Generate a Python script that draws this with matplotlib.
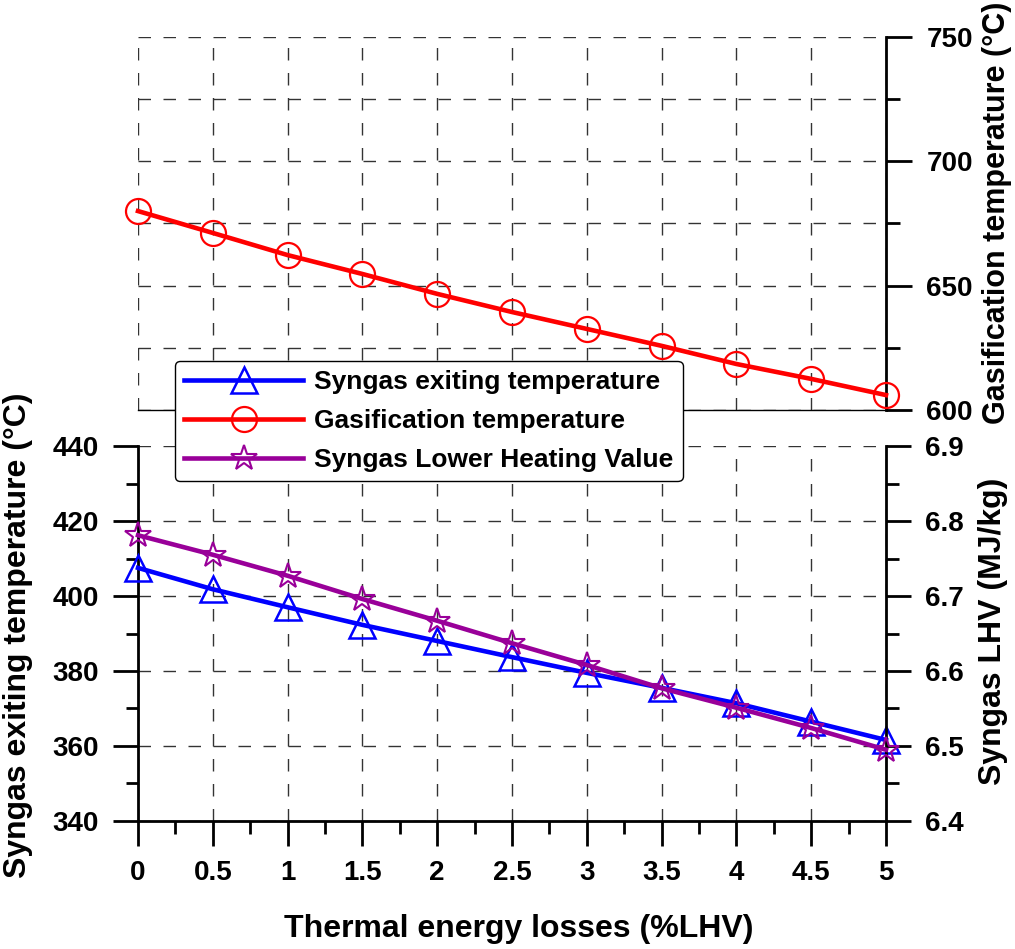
import matplotlib
matplotlib.use("Agg")
import matplotlib.pyplot as plt
import matplotlib.ticker as mticker

plt.rcParams["font.family"] = ["Liberation Sans", "DejaVu Sans"]
plt.rcParams["font.weight"] = "bold"

# --- data ---
losses = [0, 0.5, 1, 1.5, 2, 2.5, 3, 3.5, 4, 4.5, 5]
gasif_temp = [680, 671.2, 662.3, 654.7, 646.7, 639.4, 632.6, 625.8, 618.5, 612.5, 606]
syngas_exit = [407.5, 401.8, 397, 392.3, 388, 383.7, 379.5, 375.5, 371.4, 366.5, 361.6]
syngas_lhv = [6.781, 6.755, 6.727, 6.696, 6.667, 6.637, 6.608, 6.577, 6.551, 6.524, 6.495]

BLUE = "#0000ff"
RED = "#ff0000"
PURPLE = "#990099"
GRID = dict(color="#333333", lw=1.0, ls=(0, (9, 9)))
TICK_FS = 20
LABEL_FS = 23

fig = plt.figure(figsize=(10.15, 9.49), dpi=100)
ax_top = fig.add_axes([0.13596, 0.56797, 0.73695, 0.39305])
ax_bot = fig.add_axes([0.13596, 0.13488, 0.73695, 0.39515])
ax_lhv = ax_bot.twinx()

# --- top panel: gasification temperature ---
l_gas, = ax_top.plot(losses, gasif_temp, color=RED, lw=3.3, marker="o", ms=18,
                     mfc="none", mec=RED, mew=1.6, clip_on=False, zorder=3,
                     label="Gasification temperature")
ax_top.set_xlim(0, 5)
ax_top.set_ylim(600, 750)
ax_top.yaxis.tick_right()
ax_top.yaxis.set_major_locator(mticker.MultipleLocator(50))
ax_top.yaxis.set_minor_locator(mticker.MultipleLocator(25))
ax_top.xaxis.set_major_locator(mticker.MultipleLocator(0.5))
ax_top.tick_params(axis="x", which="both", length=0, labelbottom=False)
ax_top.tick_params(axis="y", which="major", direction="out", length=19, width=2,
                   labelsize=TICK_FS, pad=10)
ax_top.tick_params(axis="y", which="minor", direction="out", length=10, width=2)
ax_top.grid(True, which="major", **GRID)
ax_top.grid(True, which="minor", axis="y", **GRID)
ax_top.spines["left"].set_visible(False)
ax_top.spines["top"].set_visible(False)
ax_top.spines["right"].set_linewidth(2)
ax_top.spines["bottom"].set_linewidth(1)

# --- bottom panel: syngas exit temperature and LHV ---
l_exit, = ax_bot.plot(losses, syngas_exit, color=BLUE, lw=3.3, marker="^", ms=19,
                      mfc="none", mec=BLUE, mew=1.8, clip_on=False, zorder=3,
                      label="Syngas exiting temperature")
ax_bot.set_xlim(0, 5)
ax_bot.set_ylim(340, 440)
ax_bot.xaxis.set_major_locator(mticker.MultipleLocator(0.5))
ax_bot.xaxis.set_minor_locator(mticker.MultipleLocator(0.25))
ax_bot.xaxis.set_major_formatter(mticker.FuncFormatter(lambda v, _: f"{v:g}"))
ax_bot.yaxis.set_major_locator(mticker.MultipleLocator(20))
ax_bot.yaxis.set_minor_locator(mticker.MultipleLocator(10))
ax_bot.tick_params(which="major", direction="out", length=18, width=2,
                   labelsize=TICK_FS, pad=10)
ax_bot.tick_params(which="minor", direction="out", length=9, width=2)
ax_bot.grid(True, which="major", **GRID)
ax_bot.set_axisbelow(True)
ax_bot.spines["top"].set_visible(False)
ax_bot.spines["right"].set_visible(False)
ax_bot.spines["left"].set_linewidth(2)
ax_bot.spines["bottom"].set_linewidth(2)

l_lhv, = ax_lhv.plot(losses, syngas_lhv, color=PURPLE, lw=3.3, marker="*", ms=19,
                     mfc="none", mec=PURPLE, mew=1.5, clip_on=False, zorder=3,
                     label="Syngas Lower Heating Value")
ax_lhv.set_ylim(6.4, 6.9)
ax_lhv.yaxis.set_major_locator(mticker.MultipleLocator(0.1))
ax_lhv.yaxis.set_minor_locator(mticker.MultipleLocator(0.05))
ax_lhv.yaxis.set_major_formatter(mticker.FormatStrFormatter("%.1f"))
ax_lhv.tick_params(which="major", direction="out", length=18, width=2,
                   labelsize=TICK_FS, pad=10)
ax_lhv.tick_params(which="minor", direction="out", length=9, width=2)
ax_lhv.spines["top"].set_visible(False)
ax_lhv.spines["left"].set_visible(False)
ax_lhv.spines["bottom"].set_visible(False)
ax_lhv.spines["right"].set_linewidth(2)

for lab in (ax_bot.get_xticklabels() + ax_bot.get_yticklabels()
            + ax_lhv.get_yticklabels() + ax_top.get_yticklabels()):
    lab.set_fontweight("bold")

# --- axis titles ---
fig.text(0.018, 0.331, "Syngas exiting temperature (°C)", rotation=90,
         ha="center", va="center", fontsize=LABEL_FS, fontweight="bold")
fig.text(0.978, 0.335, "Syngas LHV (MJ/kg)", rotation=90,
         ha="center", va="center", fontsize=LABEL_FS, fontweight="bold")
fig.text(0.982, 0.776, "Gasification temperature (°C)", rotation=90,
         ha="center", va="center", fontsize=22, fontweight="bold")
fig.text(0.511, 0.021, "Thermal energy losses (%LHV)",
         ha="center", va="center", fontsize=LABEL_FS, fontweight="bold")

# --- legend spanning both panels ---
leg = fig.legend(handles=[l_exit, l_gas, l_lhv], loc="upper left",
                 bbox_to_anchor=(0.1724, 0.6196), borderaxespad=0,
                 handlelength=4.5, handletextpad=0.42, labelspacing=0.56,
                 borderpad=0.35, fancybox=True, framealpha=1,
                 edgecolor="black", prop={"weight": "bold", "size": 19})
leg.get_frame().set_linewidth(1)

fig.savefig("out.png", dpi=100)
